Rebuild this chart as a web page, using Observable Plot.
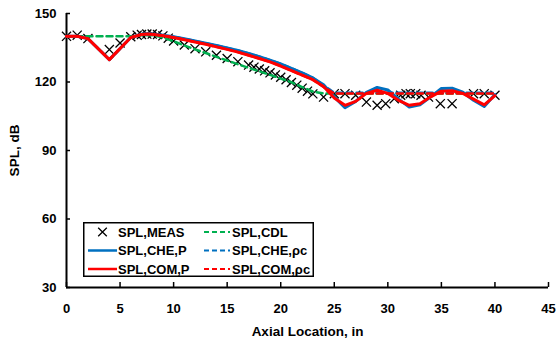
<!DOCTYPE html>
<html>
<head>
<meta charset="utf-8">
<script src="https://cdn.jsdelivr.net/npm/d3@7"></script>
<script src="https://cdn.jsdelivr.net/npm/@observablehq/plot@0.6"></script>
<style>
  html, body { margin: 0; padding: 0; background: #fff; }
  #wrap { position: relative; width: 557px; height: 343px; font-family: "Liberation Sans", Arial, sans-serif; }
  #legend { position: absolute; left: 83px; top: 222px; }
</style>
</head>
<body>
<div id="wrap"></div>
<script>
// Measured SPL
const measX = [0, 1, 2, 4, 5, 6, 6.6, 7, 7.5, 8, 8.5, 9, 9.5, 10, 11, 12, 13, 14, 15, 16, 17, 17.5, 18, 18.5, 19, 19.5, 20, 20.5, 21, 21.5, 22, 22.5, 23, 24, 25, 26, 27, 28, 29, 29.8, 30.6, 31.2, 31.7, 32.1, 32.6, 33.1, 33.8, 34.9, 36, 38, 39, 40];
const measY = [140, 140.5, 139, 134.2, 137.1, 139.8, 140.5, 140.8, 141, 141, 140.8, 140.2, 139.2, 138, 136.2, 134.6, 133.2, 131.7, 130.3, 128.9, 127.4, 126.5, 125.7, 124.9, 124, 123.1, 122.1, 121, 119.8, 118.6, 117.3, 116, 114.8, 113.4, 114.9, 114.9, 114.2, 111.2, 109.8, 110.5, 112.7, 114.2, 114.9, 114.9, 114.9, 114.2, 113.4, 110.5, 110.5, 114.9, 114.9, 114.2];

// CDL model
const cdlX = [0, 6, 7, 8, 9, 10, 11, 12, 13, 14, 15, 16, 17, 18, 19, 20, 21, 22, 23, 24, 25, 40];
const cdlY = [140, 140, 140.5, 140.5, 139.5, 137.8, 136, 134.3, 132.7, 131, 129.4, 127.8, 126.2, 124.7, 123.1, 121.5, 119.9, 117.8, 115.8, 115, 115, 115];

// CHE,P model
const cheX = [0, 1, 2, 4, 6, 7, 7.5, 8, 9, 10, 11, 12, 13, 14, 15, 16, 17, 18, 19, 20, 21, 22, 23, 24, 25, 26, 27, 28, 29, 30, 31, 32, 33, 34, 35, 36, 37, 38, 39, 40];
const cheY = [140, 140, 139, 129.8, 139.5, 140.9, 141.1, 141, 140.5, 139.8, 138.9, 138, 137, 136, 134.9, 133.8, 132.5, 131.1, 129.6, 127.9, 126, 124, 121.8, 118.8, 113.5, 108.7, 111.5, 115.5, 117.6, 116.5, 112.5, 109, 110, 113.5, 117.2, 117.3, 115.5, 112, 109.3, 114.5];

// COM,P model
const comX = [0, 1, 2, 4, 6, 7, 7.5, 8, 9, 10, 11, 12, 13, 14, 15, 16, 17, 18, 19, 20, 21, 22, 23, 24, 25, 26, 27, 28, 29, 30, 31, 32, 33, 34, 35, 36, 37, 38, 39, 40];
const comY = [140, 140, 139, 129.8, 139.5, 140.8, 141, 140.9, 140.3, 139.5, 138.5, 137.5, 136.5, 135.4, 134.3, 133.1, 131.7, 130.3, 128.8, 127, 125, 123, 121, 118, 113, 109.8, 111.5, 115, 116.4, 115, 112, 109.8, 110.5, 113.5, 116, 116.2, 115, 112.5, 110, 114];

// CHE,rho-c model
const cheRcX = [0, 1, 2, 4, 6, 7, 7.5, 8, 9, 10, 11, 12, 13, 14, 15, 16, 17, 18, 19, 20, 21, 22, 23, 24, 25, 40];
const cheRcY = [140, 140, 139, 129.8, 139.5, 140.9, 141.1, 141, 140.5, 139.8, 138.9, 138, 137, 136, 134.9, 133.8, 132.5, 131.1, 129.6, 127.9, 126, 124, 121.8, 118.5, 115.3, 115.3];

// COM,rho-c model
const comRcX = [0, 1, 2, 4, 6, 7, 7.5, 8, 9, 10, 11, 12, 13, 14, 15, 16, 17, 18, 19, 20, 21, 22, 23, 24, 25, 40];
const comRcY = [140, 140, 139, 129.8, 139.5, 140.8, 141, 140.9, 140.3, 139.5, 138.5, 137.5, 136.5, 135.4, 134.3, 133.1, 131.7, 130.3, 128.8, 127, 125, 123, 121, 117.8, 115, 115];

const xTicks = [0, 5, 10, 15, 20, 25, 30, 35, 40, 45];
const yTicks = [30, 60, 90, 120, 150];

const legendLabels = ["SPL,MEAS", "SPL,CDL", "SPL,CHE,P", "SPL,CHE,ρc", "SPL,COM,P", "SPL,COM,ρc"];

const zip = (xs, ys) => xs.map((x, i) => ({x, y: ys[i]}));
const meas = zip(measX, measY);
const cdl = zip(cdlX, cdlY);
const che = zip(cheX, cheY);
const com = zip(comX, comY);
const cheRc = zip(cheRcX, cheRcY);
const comRc = zip(comRcX, comRcY);

const GREEN = "#00b050", BLUE = "#0070c0", RED = "#ff0000";
const font = "Liberation Sans, Arial, sans-serif";

const chart = Plot.plot({
  width: 557,
  height: 343,
  marginLeft: 66,
  marginRight: 9,
  marginTop: 13,
  marginBottom: 56,
  style: {fontFamily: font, fontSize: "13px", fontWeight: "bold", color: "#000", background: "#fff"},
  x: {domain: [0, 45]},
  y: {domain: [30, 150]},
  marks: [
    Plot.axisX(xTicks, {tickSize: 0, tickPadding: 16, fontSize: 13, fontWeight: "bold", label: null}),
    Plot.axisX(xTicks, {tickSize: -5, tickFormat: () => "", label: null, strokeWidth: 1.5}),
    Plot.axisY(yTicks, {tickSize: 0, tickPadding: 10, fontSize: 13, fontWeight: "bold", label: null}),
    Plot.axisY(yTicks, {tickSize: -4, tickFormat: () => "", label: null, strokeWidth: 1.5}),
    Plot.ruleX([0], {stroke: "#000", strokeWidth: 2}),
    Plot.ruleY([30], {stroke: "#000", strokeWidth: 2}),
    Plot.dot(meas, {x: "x", y: "y", symbol: "times", r: 4.2, stroke: "#000", strokeWidth: 1.3}),
    Plot.line(cdl, {x: "x", y: "y", stroke: GREEN, strokeWidth: 2.5, strokeDasharray: "6,4"}),
    Plot.line(che, {x: "x", y: "y", stroke: BLUE, strokeWidth: 3}),
    Plot.line(cheRc, {x: "x", y: "y", stroke: BLUE, strokeWidth: 2.5, strokeDasharray: "6,4"}),
    Plot.line(com, {x: "x", y: "y", stroke: RED, strokeWidth: 3}),
    Plot.line(comRc, {x: "x", y: "y", stroke: RED, strokeWidth: 2.5, strokeDasharray: "6,4"}),
    Plot.text(["Axial Location, in"], {frameAnchor: "bottom", dy: 44, lineAnchor: "middle", fontSize: 13.5, fontWeight: "bold", fill: "#000"}),
    Plot.text(["SPL, dB"], {frameAnchor: "left", dx: -52, rotate: -90, textAnchor: "middle", lineAnchor: "middle", fontSize: 13.5, fontWeight: "bold", fill: "#000"})
  ]
});

const wrap = document.getElementById("wrap");
wrap.appendChild(chart);

// Legend (inside plot area, as in the reference)
const lw = 231, lh = 55;
const leg = d3.select(wrap).append("svg")
  .attr("id", "legend").attr("width", lw).attr("height", lh);
leg.append("rect").attr("x", 0.75).attr("y", 0.75).attr("width", lw - 1.5).attr("height", lh - 1.5)
  .attr("fill", "#fff").attr("stroke", "#000").attr("stroke-width", 1.5);
const items = [
  {label: legendLabels[0], kind: "marker", color: "#000"},
  {label: legendLabels[1], kind: "dash", color: GREEN},
  {label: legendLabels[2], kind: "solid", color: BLUE},
  {label: legendLabels[3], kind: "dash", color: BLUE},
  {label: legendLabels[4], kind: "solid", color: RED},
  {label: legendLabels[5], kind: "dash", color: RED}
];
const rowY = [10, 28.5, 47];
const colX = [{x0: 5, x1: 34, tx: 35}, {x0: 121, x1: 147, tx: 149}];
items.forEach((it, i) => {
  const r = Math.floor(i / 2), c = i % 2;
  const y = rowY[r], col = colX[c];
  const g = leg.append("g");
  if (it.kind === "marker") {
    const cx = (col.x0 + col.x1) / 2, s = 4.3;
    g.append("path").attr("d", `M${cx - s},${y - s}L${cx + s},${y + s}M${cx - s},${y + s}L${cx + s},${y - s}`)
      .attr("stroke", "#000").attr("stroke-width", 1.3);
  } else {
    g.append("line").attr("x1", col.x0).attr("x2", col.x1).attr("y1", y).attr("y2", y)
      .attr("stroke", it.color).attr("stroke-width", it.kind === "solid" ? 2.5 : 2.2)
      .attr("stroke-dasharray", it.kind === "dash" ? "5,3" : null);
  }
  g.append("text").attr("x", col.tx).attr("y", y).attr("dy", "0.35em")
    .attr("font-family", font).attr("font-size", 13).attr("font-weight", "bold").attr("fill", "#000")
    .text(it.label);
});
</script>
</body>
</html>
